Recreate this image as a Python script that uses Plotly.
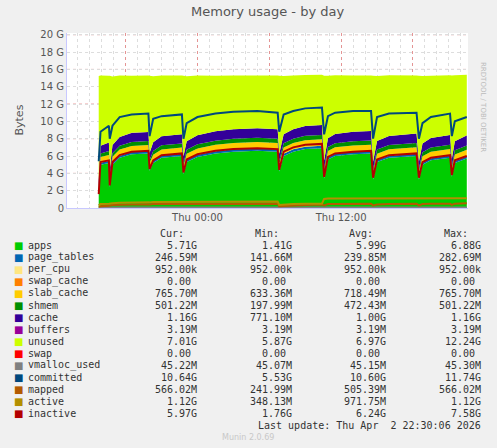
import pandas as pd
import plotly.graph_objects as go

# hours relative to Thu 2026-04-02 00:00
t_hours = [-8.25, -8.1, -7.4, -7.33, -7.1, -6.5, -5.5, -4.1, -4.0, -3.7, -3.0, -1.3, -1.17, -0.9, 0, 1.5, 3, 5, 6.7, 6.83,
           7.2, 8, 9, 10.4, 10.58, 10.9, 11.5, 13, 14.5, 14.67, 15, 16, 18.3, 18.5, 18.8, 19.5, 21.1, 21.25, 21.5, 22.5]

# values in GiB
apps = [1.4, 5.0, 5.2, 2.4, 5.0, 5.8, 6.2, 6.3, 4.3, 5.2, 5.8, 6.0, 3.9, 5.3, 5.9, 6.3, 6.5, 6.6, 6.5, 4.2,
        6.0, 6.5, 6.8, 6.9, 3.4, 5.6, 6.0, 6.2, 6.3, 3.3, 5.3, 5.8, 6.0, 3.3, 5.0, 5.5, 5.8, 3.6, 5.2, 5.7]
page_tables = [0.14, 0.22, 0.24, 0.2, 0.23, 0.24, 0.25, 0.25, 0.22, 0.24, 0.25, 0.25, 0.21, 0.24, 0.25, 0.26, 0.27, 0.27, 0.27, 0.22,
               0.26, 0.27, 0.28, 0.28, 0.2, 0.24, 0.25, 0.25, 0.25, 0.2, 0.23, 0.24, 0.25, 0.2, 0.23, 0.24, 0.25, 0.2, 0.23, 0.25]
per_cpu = [0.001] * 40
swap_cache = [0.0] * 40
slab_cache = [0.63, 0.66, 0.68, 0.66, 0.68, 0.7, 0.7, 0.71, 0.69, 0.7, 0.71, 0.72, 0.7, 0.71, 0.72, 0.73, 0.74, 0.74, 0.74, 0.7,
              0.73, 0.74, 0.75, 0.75, 0.72, 0.74, 0.75, 0.75, 0.75, 0.72, 0.74, 0.75, 0.75, 0.72, 0.74, 0.75, 0.76, 0.73, 0.75, 0.77]
shmem = [0.2, 0.4, 0.45, 0.25, 0.42, 0.45, 0.47, 0.47, 0.3, 0.45, 0.47, 0.48, 0.3, 0.46, 0.48, 0.48, 0.49, 0.49, 0.49, 0.3,
         0.48, 0.49, 0.5, 0.5, 0.3, 0.47, 0.48, 0.49, 0.49, 0.3, 0.47, 0.48, 0.49, 0.3, 0.47, 0.48, 0.49, 0.3, 0.48, 0.5]
cache = [0.77, 0.9, 1.0, 0.85, 0.95, 1.0, 1.05, 1.05, 0.85, 1.0, 1.05, 1.05, 0.85, 1.0, 1.05, 1.08, 1.1, 1.1, 1.1, 0.85,
         1.05, 1.1, 1.12, 1.15, 0.85, 1.0, 1.05, 1.1, 1.1, 0.85, 1.0, 1.05, 1.1, 0.85, 1.0, 1.1, 1.12, 0.85, 1.05, 1.16]
buffers = [0.003] * 40
unused = [12.1, 8.1, 7.7, 10.9, 7.9, 7.1, 6.6, 6.5, 8.9, 7.6, 7.0, 6.8, 9.3, 7.5, 6.9, 6.4, 6.2, 6.1, 6.2, 9.0,
          6.7, 6.2, 5.9, 5.8, 9.8, 7.2, 6.8, 6.5, 6.4, 9.9, 7.5, 7.0, 6.7, 9.9, 7.8, 7.2, 6.9, 9.6, 7.6, 7.0]
swap = [0.0] * 40
vmalloc_used = [0.044] * 40
committed = [5.4, 8.8, 9.5, 8.0, 9.5, 10.5, 10.8, 10.9, 8.3, 10.3, 10.6, 10.8, 8.0, 9.8, 10.5, 10.9, 11.1, 11.2, 11.0, 8.8,
             10.8, 11.2, 11.5, 11.6, 8.5, 10.6, 11.0, 11.2, 11.2, 8.0, 10.5, 10.9, 11.0, 8.0, 9.8, 10.5, 10.9, 8.3, 10.0, 10.5]
mapped = [0.15, 0.2, 0.25, 0.3, 0.35, 0.4, 0.4, 0.42, 0.4, 0.45, 0.45, 0.45, 0.45, 0.5, 0.5, 0.5, 0.5, 0.5, 0.5, 0.2,
          0.25, 0.3, 0.35, 0.4, 0.3, 0.45, 0.45, 0.5, 0.5, 0.3, 0.4, 0.45, 0.5, 0.3, 0.45, 0.5, 0.5, 0.35, 0.5, 0.56]
active = [0.3, 0.45, 0.5, 0.5, 0.55, 0.6, 0.6, 0.6, 0.65, 0.7, 0.7, 0.7, 0.7, 0.75, 0.75, 0.75, 0.75, 0.75, 0.75, 0.35,
          0.4, 0.45, 0.5, 0.5, 1.05, 1.1, 1.1, 1.1, 1.1, 1.1, 1.1, 1.1, 1.1, 1.1, 1.1, 1.1, 1.1, 1.1, 1.1, 1.12]
inactive = [1.6, 5.3, 5.5, 2.6, 5.3, 6.1, 6.5, 6.6, 4.5, 5.5, 6.1, 6.3, 4.1, 5.6, 6.2, 6.6, 6.8, 6.9, 6.8, 4.4,
            6.5, 7.0, 7.3, 7.4, 3.6, 5.9, 6.3, 6.5, 6.6, 3.5, 5.6, 6.1, 6.3, 3.5, 5.3, 5.8, 6.1, 3.8, 5.5, 6.0]

legend_rows = [
    ("apps", "#00CC00", "5.71G", "1.41G", "5.99G", "6.88G"),
    ("page_tables", "#0066B3", "246.59M", "141.66M", "239.85M", "282.69M"),
    ("per_cpu", "#FFE680", "952.00k", "952.00k", "952.00k", "952.00k"),
    ("swap_cache", "#FF8000", "0.00 ", "0.00 ", "0.00 ", "0.00 "),
    ("slab_cache", "#FFCC00", "765.70M", "633.36M", "718.49M", "765.70M"),
    ("shmem", "#008F00", "501.22M", "197.99M", "472.43M", "501.22M"),
    ("cache", "#330099", "1.16G", "771.10M", "1.00G", "1.16G"),
    ("buffers", "#990099", "3.19M", "3.19M", "3.19M", "3.19M"),
    ("unused", "#CCFF00", "7.01G", "5.87G", "6.97G", "12.24G"),
    ("swap", "#FF0000", "0.00 ", "0.00 ", "0.00 ", "0.00 "),
    ("vmalloc_used", "#808080", "45.22M", "45.07M", "45.15M", "45.30M"),
    ("committed", "#00487D", "10.64G", "5.53G", "10.60G", "11.74G"),
    ("mapped", "#B35A00", "566.02M", "241.99M", "505.39M", "566.02M"),
    ("active", "#B38F00", "1.12G", "348.13M", "971.75M", "1.12G"),
    ("inactive", "#B30000", "5.97G", "1.76G", "6.24G", "7.58G"),
]

base = pd.Timestamp("2026-04-02 00:00")
times = [base + pd.Timedelta(hours=h) for h in t_hours]
colors = {r[0]: r[1] for r in legend_rows}

W, H = 497, 448
L, R, T, B = 67, 468, 33, 208


def px(x, y):
    return (x - L) / (R - L), (B - y) / (B - T)


fig = go.Figure()
stacked = [("apps", apps), ("page_tables", page_tables), ("per_cpu", per_cpu), ("swap_cache", swap_cache),
           ("slab_cache", slab_cache), ("shmem", shmem), ("cache", cache), ("buffers", buffers),
           ("unused", unused), ("swap", swap)]
for name, vals in stacked:
    fig.add_trace(go.Scatter(x=times, y=vals, name=name, stackgroup="mem", mode="none",
                             fillcolor=colors[name], showlegend=False))
lines = [("vmalloc_used", vmalloc_used), ("committed", committed), ("mapped", mapped),
         ("active", active), ("inactive", inactive)]
for name, vals in lines:
    fig.add_trace(go.Scatter(x=times, y=vals, name=name, mode="lines",
                             line=dict(color=colors[name], width=2), showlegend=False))

# red major grid on y every 4G
for g in range(4, 21, 4):
    fig.add_shape(type="line", xref="paper", x0=0, x1=1, yref="y", y0=g, y1=g, layer="below",
                  line=dict(color="rgba(230,130,130,0.8)", width=1, dash="dot"))

mono = "DejaVu Sans Mono"
ann = []
ann.append(dict(text="Memory usage - by day", x=0.5, y=px(0, 12)[1], xref="paper", yref="paper",
                xanchor="center", yanchor="middle", showarrow=False,
                font=dict(family="DejaVu Sans", size=13, color="#555555")))
ann.append(dict(text="Bytes", x=px(10, 0)[0], y=px(0, 120)[1], xref="paper", yref="paper", textangle=-90,
                showarrow=False, font=dict(family="DejaVu Sans", size=11, color="#555555")))
ann.append(dict(text="RRDTOOL / TOBI OETIKER", x=px(489, 0)[0], y=px(0, 60)[1], xref="paper", yref="paper",
                textangle=90, showarrow=False, font=dict(family="DejaVu Sans", size=7, color="#bbbbbb")))
for label, xr in [("Cur:", 186), ("Min:", 281), ("Avg:", 375), ("Max:", 470)]:
    ann.append(dict(text=label, x=px(xr, 0)[0], y=px(0, 233)[1], xref="paper", yref="paper",
                    xanchor="right", yanchor="middle", showarrow=False, font=dict(family=mono, size=10, color="#333333")))
for i, (name, col, cur, mn, avg, mx) in enumerate(legend_rows):
    y = px(0, 245 + i * 12)[1]
    ann.append(dict(text="<b>■</b>", x=px(12, 0)[0], y=y, xref="paper", yref="paper", xanchor="left",
                    yanchor="middle", showarrow=False, font=dict(family="DejaVu Sans", size=10, color=col)))
    ann.append(dict(text=name, x=px(26, 0)[0], y=y, xref="paper", yref="paper", xanchor="left",
                    yanchor="middle", showarrow=False, font=dict(family=mono, size=10, color="#333333")))
    for v, xr in [(cur, 199), (mn, 294), (avg, 388), (mx, 483)]:
        ann.append(dict(text=v.replace(" ", "&nbsp;"), x=px(xr, 0)[0], y=y, xref="paper", yref="paper",
                        xanchor="right", yanchor="middle", showarrow=False,
                        font=dict(family=mono, size=10, color="#333333")))
ann.append(dict(text="Last update: Thu Apr&nbsp;&nbsp;2 22:30:06 2026", x=px(483, 0)[0], y=px(0, 425)[1],
                xref="paper", yref="paper", xanchor="right", yanchor="middle", showarrow=False,
                font=dict(family=mono, size=10, color="#333333")))
ann.append(dict(text="Munin 2.0.69", x=px(248, 0)[0], y=px(0, 437)[1], xref="paper", yref="paper",
                xanchor="center", yanchor="middle", showarrow=False,
                font=dict(family="DejaVu Sans", size=8, color="#c8c8c8")))

xticks = [base + pd.Timedelta(hours=h) for h in (-6, 0, 6, 12, 18)]
fig.update_layout(
    width=W, height=H, margin=dict(l=L, r=W - R, t=T, b=H - B),
    paper_bgcolor="#F0F0F0", plot_bgcolor="white", annotations=ann,
    xaxis=dict(range=[base + pd.Timedelta(hours=-10.9), base + pd.Timedelta(hours=22.6)],
               tickvals=xticks, ticktext=["", "Thu 00:00", "", "Thu 12:00", ""],
               gridcolor="rgba(230,130,130,0.8)", griddash="dot", showline=True, linecolor="#c8c8ff",
               ticks="", tickfont=dict(family="DejaVu Sans", size=10, color="#555555"),
               minor=dict(dtick=3600000, showgrid=True, gridcolor="#dddddd", griddash="dot"), zeroline=False),
    yaxis=dict(range=[0, 20.2], tickvals=list(range(0, 21, 2)),
               ticktext=["0"] + [f"{v} G" for v in range(2, 21, 2)],
               gridcolor="#dddddd", griddash="dot", showline=True, linecolor="#c8c8ff", zeroline=False,
               tickfont=dict(family="DejaVu Sans", size=10, color="#555555")),
)
fig.write_html("out.html", config={"displayModeBar": False},
               post_script="document.body.style.margin='0';document.body.style.background='#F0F0F0';")
